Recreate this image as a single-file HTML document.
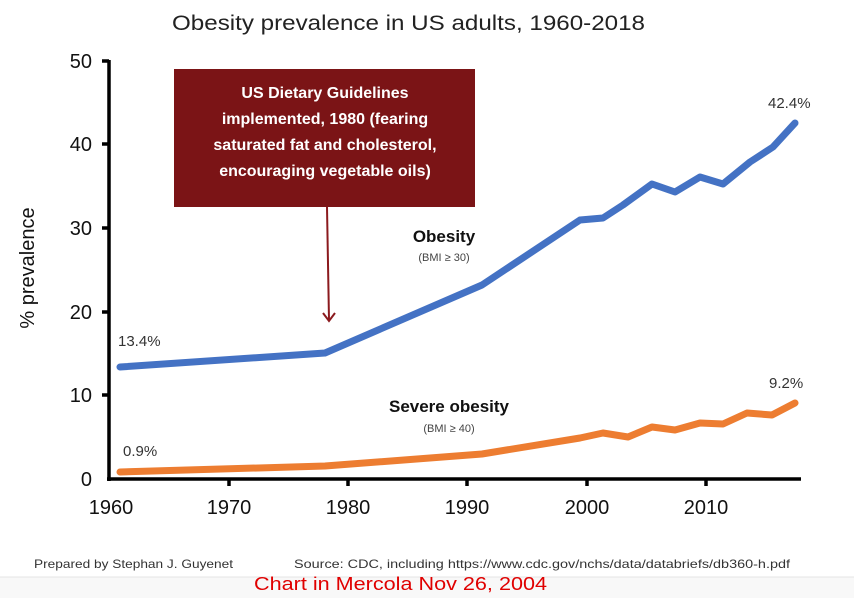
<!DOCTYPE html>
<html><head><meta charset="utf-8"><style>
html,body{margin:0;padding:0;background:#fff;}
svg{display:block;}
text{font-family:"Liberation Sans",sans-serif;}
</style></head><body>
<svg width="854" height="598" viewBox="0 0 854 598" xmlns="http://www.w3.org/2000/svg">
<rect width="854" height="598" fill="#fff"/>
<rect x="0" y="577" width="854" height="21" fill="#f8f8f8"/>
<line x1="0" y1="577" x2="854" y2="577" stroke="#e4e4e4" stroke-width="1"/>
<text x="172" y="30" font-size="21" fill="#222" textLength="473" lengthAdjust="spacingAndGlyphs">Obesity prevalence in US adults, 1960-2018</text>
<line x1="109" y1="60" x2="109" y2="481" stroke="#000" stroke-width="3.5"/>
<line x1="107" y1="479" x2="801" y2="479" stroke="#000" stroke-width="3.5"/>
<g stroke="#000" stroke-width="3.5">
<line x1="102" y1="61" x2="109" y2="61"/><line x1="102" y1="144" x2="109" y2="144"/><line x1="102" y1="228" x2="109" y2="228"/><line x1="102" y1="312" x2="109" y2="312"/><line x1="102" y1="395" x2="109" y2="395"/>
<line x1="229" y1="479" x2="229" y2="486"/><line x1="348" y1="479" x2="348" y2="486"/><line x1="467" y1="479" x2="467" y2="486"/><line x1="587" y1="479" x2="587" y2="486"/><line x1="706" y1="479" x2="706" y2="486"/>
</g>
<g font-size="20" fill="#111" text-anchor="end">
<text x="92" y="68">50</text><text x="92" y="151">40</text><text x="92" y="235">30</text><text x="92" y="319">20</text><text x="92" y="402">10</text><text x="92" y="486">0</text>
</g>
<g font-size="20" fill="#111" text-anchor="middle">
<text x="111" y="514">1960</text><text x="229" y="514">1970</text><text x="348" y="514">1980</text><text x="467" y="514">1990</text><text x="587" y="514">2000</text><text x="706" y="514">2010</text>
</g>
<text transform="translate(34,268) rotate(-90)" font-size="20" fill="#111" text-anchor="middle">% prevalence</text>
<polyline fill="none" stroke="#4472c4" stroke-width="7" stroke-linejoin="round" stroke-linecap="round"
 points="120,367 325,353 482,285 580,220 603,218 623,205 652,184 675,192 700,177 723,184 750,162 773,147 795,123"/>
<polyline fill="none" stroke="#ed7d31" stroke-width="7" stroke-linejoin="round" stroke-linecap="round"
 points="120,472 325,466 482,454 580,438 603,433 628,437 652,427 675,430 700,423 723,424 747,413 772,415 795,403"/>
<rect x="174" y="69" width="301" height="138" fill="#7b1416"/>
<g font-size="16" font-weight="bold" fill="#fff" text-anchor="middle">
<text x="325" y="98">US Dietary Guidelines</text>
<text x="325" y="124">implemented, 1980 (fearing</text>
<text x="325" y="150">saturated fat and cholesterol,</text>
<text x="325" y="176">encouraging vegetable oils)</text>
</g>
<line x1="327" y1="207" x2="329" y2="320" stroke="#8b1a1e" stroke-width="2"/>
<polyline points="323,313 329,321 335,313" fill="none" stroke="#8b1a1e" stroke-width="2"/>
<text x="444" y="242" font-size="17" font-weight="bold" fill="#111" text-anchor="middle">Obesity</text>
<text x="444" y="261" font-size="11" fill="#444" text-anchor="middle">(BMI ≥ 30)</text>
<text x="449" y="412" font-size="17" font-weight="bold" fill="#111" text-anchor="middle">Severe obesity</text>
<text x="449" y="432" font-size="11" fill="#444" text-anchor="middle">(BMI ≥ 40)</text>
<text x="118" y="346" font-size="15" fill="#333">13.4%</text>
<text x="123" y="456" font-size="15" fill="#333">0.9%</text>
<text x="768" y="108" font-size="15" fill="#333">42.4%</text>
<text x="769" y="388" font-size="15" fill="#333">9.2%</text>
<text x="34" y="568" font-size="12" fill="#333" textLength="199" lengthAdjust="spacingAndGlyphs">Prepared by Stephan J. Guyenet</text>
<text x="294" y="568" font-size="12" fill="#333" textLength="496" lengthAdjust="spacingAndGlyphs">Source: CDC, including https://www.cdc.gov/nchs/data/databriefs/db360-h.pdf</text>
<text x="254" y="590" font-size="18" fill="#e00000" textLength="293" lengthAdjust="spacingAndGlyphs">Chart in Mercola Nov 26, 2004</text>
</svg>
</body></html>
